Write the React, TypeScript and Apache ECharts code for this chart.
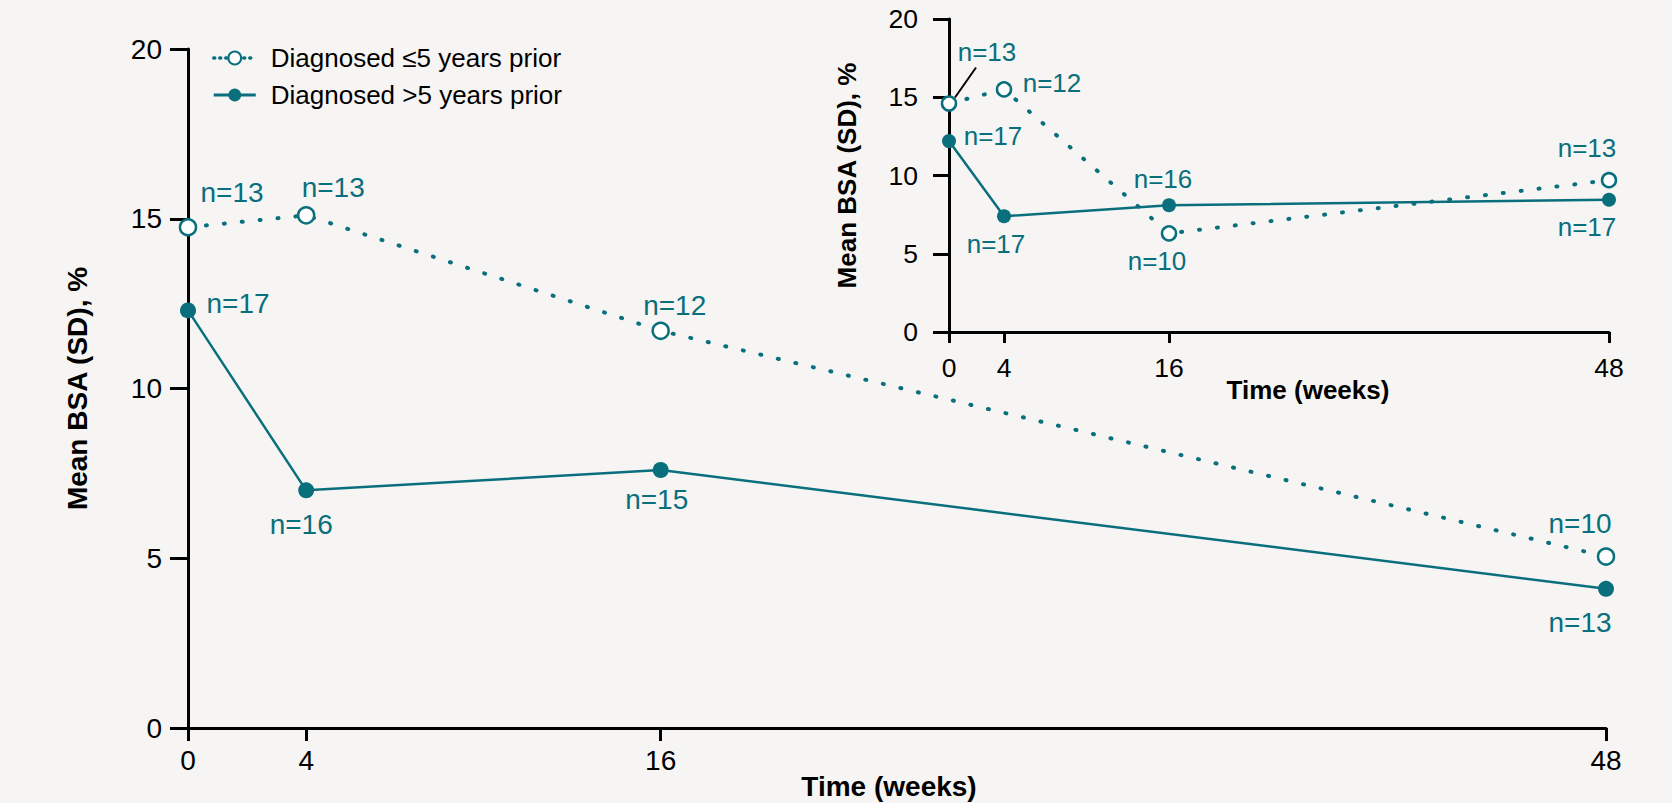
import React, { useEffect, useRef } from "react";
import * as echarts from "echarts";

// ---------- data ----------
const weeks = [0, 4, 16, 48];
const tickWeeks = [0, 4, 16, 48];
const seriesNames = ["Diagnosed ≤5 years prior", "Diagnosed >5 years prior"];

const mainLe5 = [14.75, 15.1, 11.7, 5.05];
const mainGt5 = [12.3, 7.0, 7.6, 4.1];
const mainNLe5 = [13, 13, 12, 10];
const mainNGt5 = [17, 16, 15, 13];

const insetLe5 = [14.6, 15.5, 6.3, 9.7];
const insetGt5 = [12.2, 7.4, 8.1, 8.45];
const insetNLe5 = [13, 12, 10, 13];
const insetNGt5 = [17, 17, 16, 17];

const yTitle = "Mean BSA (SD), %";
const xTitle = "Time (weeks)";

// ---------- layout / style ----------
const TEAL = "#0a6f7d";
const BG = "#f6f5f3";
const FONT = "'Liberation Sans', Arial, Helvetica, sans-serif";

// label offsets (px from point centre)
const mainOffLe5 = [[44, -35], [27, -28], [14, -25], [-26, -33]];
const mainOffGt5 = [[50, -7], [-5, 34], [-4, 30], [-26, 34]];
const insetOffLe5 = [[38, -52], [48, -6], [-12, 28], [-22, -32]];
const insetOffGt5 = [[44, -5], [-8, 28], [-6, -26], [-22, 27]];

function buildSeries(
  name: string,
  values: number[],
  ns: number[],
  offsets: number[][],
  axisIdx: number,
  open: boolean,
  symSize: number,
  fontSize: number
) {
  return {
    type: "line",
    name,
    xAxisIndex: axisIdx,
    yAxisIndex: axisIdx,
    data: weeks.map((w, i) => ({
      value: [w, values[i]],
      label: { offset: offsets[i] },
    })),
    symbol: "circle",
    symbolSize: symSize,
    showSymbol: true,
    lineStyle: open
      ? { color: TEAL, width: 4, type: [1, 17], cap: "round" }
      : { color: TEAL, width: 2.5 },
    itemStyle: open
      ? { color: "#ffffff", borderColor: TEAL, borderWidth: 2.5 }
      : { color: TEAL, borderWidth: 0 },
    label: {
      show: true,
      position: "inside",
      align: "center",
      verticalAlign: "middle",
      formatter: (p: any) => "n=" + ns[p.dataIndex],
      color: TEAL,
      fontSize,
      fontFamily: FONT,
      textBorderWidth: 0,
    },
    emphasis: { disabled: true },
    z: open ? 3 : 2,
  };
}

function xAxisCfg(grid: number, fs: number, tickLen: number, margin: number, nameGap: number, nameFs: number, namePad: number[]) {
  return {
    gridIndex: grid,
    type: "value",
    min: 0,
    max: 48,
    axisLine: { show: true, onZero: false, lineStyle: { color: "#000", width: 3 } },
    axisTick: { show: true, customValues: tickWeeks, length: tickLen, lineStyle: { color: "#000", width: 3 } },
    axisLabel: { customValues: tickWeeks, fontSize: fs, color: "#000", margin, fontFamily: FONT },
    splitLine: { show: false },
    name: xTitle,
    nameLocation: "middle",
    nameGap,
    nameMoveOverlap: false,
    nameTextStyle: { fontSize: nameFs, fontWeight: "bold", color: "#000", fontFamily: FONT, padding: namePad },
  };
}

function yAxisCfg(grid: number, fs: number, tickLen: number, margin: number, nameGap: number, nameFs: number) {
  return {
    gridIndex: grid,
    type: "value",
    min: 0,
    max: 20,
    interval: 5,
    axisLine: { show: true, onZero: false, lineStyle: { color: "#000", width: 3 } },
    axisTick: { show: true, length: tickLen, lineStyle: { color: "#000", width: 3 } },
    axisLabel: { fontSize: fs, color: "#000", margin, fontFamily: FONT },
    splitLine: { show: false },
    name: yTitle,
    nameLocation: "middle",
    nameRotate: 90,
    nameGap,
    nameMoveOverlap: false,
    nameTextStyle: { fontSize: nameFs, fontWeight: "bold", color: "#000", fontFamily: FONT },
  };
}

export default function App() {
  const ref = useRef<HTMLDivElement>(null);
  useEffect(() => {
    document.body.style.margin = "0";
    document.body.style.background = BG;
    if (!ref.current) return;
    const chart = echarts.init(ref.current, null, { renderer: "svg" });
    const option: any = {
      animation: false,
      backgroundColor: BG,
      grid: [
        { left: 188, right: 66, top: 49, bottom: 75, containLabel: false, outerBoundsMode: "none" },
        { left: 949, right: 63, top: 19, bottom: 471, containLabel: false, outerBoundsMode: "none" },
      ],
      legend: {
        left: 212,
        top: 45,
        orient: "vertical",
        itemWidth: 42,
        itemHeight: 16,
        itemGap: 11,
        padding: 0,
        selectedMode: false,
        textStyle: { fontSize: 26, color: "#000", fontFamily: FONT, padding: [0, 0, 0, 10] },
        data: [
          { name: seriesNames[0], lineStyle: { type: [1, 5], width: 3.5, cap: "round", color: TEAL } },
          { name: seriesNames[1], lineStyle: { width: 3, color: TEAL } },
        ],
      },
      xAxis: [
        xAxisCfg(0, 28, 13, 18, 44, 28, [0, 16, 0, 0]),
        xAxisCfg(1, 26.5, 11, 22, 45, 26, [0, 0, 0, 58]),
      ],
      yAxis: [yAxisCfg(0, 28, 18, 26, 97, 28), yAxisCfg(1, 26.5, 16, 31, 89, 26)],
      series: [
        buildSeries(seriesNames[1], mainGt5, mainNGt5, mainOffGt5, 0, false, 16, 28),
        buildSeries(seriesNames[0], mainLe5, mainNLe5, mainOffLe5, 0, true, 16, 28),
        buildSeries(seriesNames[1], insetGt5, insetNGt5, insetOffGt5, 1, false, 14, 26),
        buildSeries(seriesNames[0], insetLe5, insetNLe5, insetOffLe5, 1, true, 14, 26),
      ],
    };
    chart.setOption(option);
    // leader line for the inset's first ≤5-years label
    const p = chart.convertToPixel({ xAxisIndex: 1, yAxisIndex: 1 }, [weeks[0], insetLe5[0]]) as number[];
    if (p) {
      chart.setOption({
        graphic: [
          {
            type: "line",
            shape: { x1: p[0] + 6, y1: p[1] - 6, x2: p[0] + 27, y2: p[1] - 36 },
            style: { stroke: "#000", lineWidth: 2 },
            z: 10,
          },
        ],
      });
    }
    return () => chart.dispose();
  }, []);
  return <div ref={ref} style={{ width: 1672, height: 803 }} />;
}
